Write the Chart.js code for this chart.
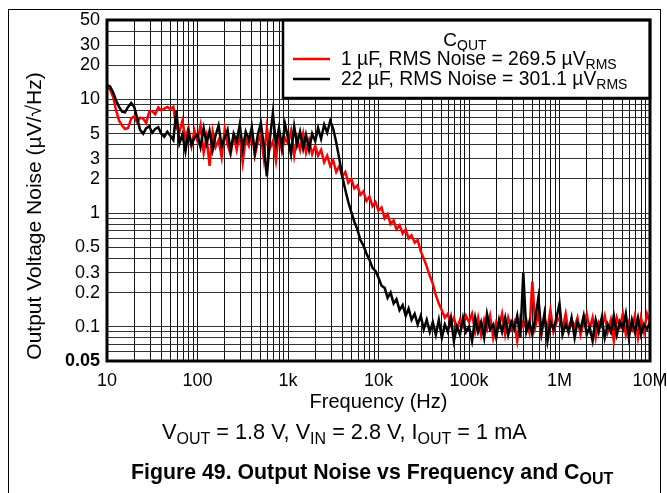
<!DOCTYPE html>
<html>
<head>
<meta charset="utf-8">
<script src="https://cdn.jsdelivr.net/npm/chart.js@4.4.1/dist/chart.umd.min.js"></script>
<style>
    html, body { margin: 0; padding: 0; background: #fff; }
    canvas { display: block; }
</style>
</head>
<body>
<canvas id="noiseChart" width="667" height="493"></canvas>
<script>
// Frequency points (Hz), shared by both traces
const FREQ = [
    10, 10.8, 11.7, 12.6, 13.6, 14.7, 15.8, 17.1, 18.5, 20, 21.5, 23.2, 25.1, 27.1, 29.3,
    31.6, 34.1, 36.9, 39.8, 43, 46.4, 50.1, 54.1, 58.4, 63.1, 68.1, 73.6, 79.4, 85.8, 92.6,
    100, 108, 117, 126, 136, 147, 158, 171, 185, 200, 215, 232, 251, 271, 293,
    316, 341, 369, 398, 430, 464, 501, 541, 584, 631, 681, 736, 794, 858, 926,
    1000, 1080, 1170, 1260, 1360, 1470, 1580, 1710, 1850, 2000, 2150, 2320, 2510, 2710, 2930,
    3160, 3410, 3690, 3980, 4300, 4640, 5010, 5410, 5840, 6310, 6810, 7360, 7940, 8580, 9260,
    1.0e4, 1.08e4, 1.17e4, 1.26e4, 1.36e4, 1.47e4, 1.58e4, 1.71e4, 1.85e4, 2.0e4, 2.15e4, 2.32e4, 2.51e4, 2.71e4, 2.93e4,
    3.16e4, 3.41e4, 3.69e4, 3.98e4, 4.3e4, 4.64e4, 5.01e4, 5.41e4, 5.84e4, 6.31e4, 6.81e4, 7.36e4, 7.94e4, 8.58e4, 9.26e4,
    1.0e5, 1.08e5, 1.17e5, 1.26e5, 1.36e5, 1.47e5, 1.58e5, 1.71e5, 1.85e5, 2.0e5, 2.15e5, 2.32e5, 2.51e5, 2.71e5, 2.93e5,
    3.16e5, 3.41e5, 3.69e5, 3.98e5, 4.3e5, 4.64e5, 5.01e5, 5.41e5, 5.84e5, 6.31e5, 6.81e5, 7.36e5, 7.94e5, 8.58e5, 9.26e5,
    1.0e6, 1.08e6, 1.17e6, 1.26e6, 1.36e6, 1.47e6, 1.58e6, 1.71e6, 1.85e6, 2.0e6, 2.15e6, 2.32e6, 2.51e6, 2.71e6, 2.93e6,
    3.16e6, 3.41e6, 3.69e6, 3.98e6, 4.3e6, 4.64e6, 5.01e6, 5.41e6, 5.84e6, 6.31e6, 6.81e6, 7.36e6, 7.94e6, 8.58e6, 9.26e6,
    1.0e7
];

// Output noise, uV/sqrt(Hz) - C_OUT = 1 uF (red)
const NOISE_1UF = [
    12.6, 12.3, 10.5, 8.0, 6.5, 5.9, 5.5, 5.6, 6.8, 7.1, 6.3, 6.9, 6.8, 6.2, 7.8,
    7.9, 7.4, 8.5, 8.0, 8.3, 8.6, 8.2, 8.6, 5.6, 5.2, 6.5, 4.5, 5.6, 3.9, 5.3,
    4.3, 5.9, 3.4, 4.7, 2.6, 5.2, 3.8, 4.4, 3.1, 5.5, 4.0, 3.3, 4.8, 3.6, 5.0,
    2.8, 4.5, 3.9, 5.3, 3.2, 4.2, 4.9, 3.0, 5.6, 3.7, 4.3, 2.9, 5.1, 3.5, 4.6,
    4.1, 5.3, 3.2, 4.6, 3.6, 5.0, 3.4, 4.4, 3.3, 3.9, 3.2, 3.6, 2.8, 3.2, 2.6,
    2.9, 2.3, 2.6, 2.1, 2.3, 1.85, 2.0, 1.65, 1.75, 1.45, 1.55, 1.28, 1.40, 1.15, 1.25,
    1.05, 1.12, 0.90, 0.98, 0.80, 0.86, 0.72, 0.78, 0.66, 0.72, 0.60, 0.64, 0.55, 0.58, 0.46,
    0.40, 0.34, 0.28, 0.24, 0.19, 0.16, 0.14, 0.12, 0.13, 0.105, 0.12, 0.095, 0.115, 0.10, 0.125,
    0.11, 0.13, 0.09, 0.12, 0.085, 0.115, 0.095, 0.125, 0.08, 0.11, 0.10, 0.13, 0.085, 0.12, 0.095,
    0.11, 0.075, 0.12, 0.10, 0.115, 0.09, 0.25, 0.10, 0.13, 0.085, 0.12, 0.095, 0.14, 0.09, 0.11,
    0.12, 0.095, 0.13, 0.09, 0.115, 0.10, 0.12, 0.085, 0.11, 0.13, 0.095, 0.12, 0.08, 0.11, 0.10,
    0.125, 0.09, 0.115, 0.075, 0.12, 0.10, 0.13, 0.085, 0.11, 0.095, 0.125, 0.08, 0.12, 0.09, 0.13,
    0.11
];

// Output noise, uV/sqrt(Hz) - C_OUT = 22 uF (black)
const NOISE_22UF = [
    13.4, 13.0, 11.5, 9.8, 8.6, 7.8, 7.7, 8.6, 9.3, 8.6, 6.9, 5.4, 5.0, 5.6, 5.8,
    5.1, 5.5, 5.7, 5.0, 4.7, 5.2, 4.8, 4.4, 8.0, 4.1, 4.9, 3.5, 5.2, 4.0, 4.6,
    4.9, 3.8, 5.6, 4.1, 5.3, 3.6, 4.8, 5.9, 3.9, 4.6, 5.4, 3.5, 5.0, 4.3, 6.0,
    3.7, 5.2, 4.4, 5.7, 3.4, 4.9, 6.2, 3.9, 2.1, 4.5, 7.6, 4.0, 5.6, 3.8, 6.1,
    4.6, 3.3, 5.8, 4.0, 5.2, 3.7, 4.9, 3.6, 5.0, 4.3, 5.6, 4.5, 6.0, 5.1, 6.5,
    5.5, 4.2, 3.0, 2.1, 1.6, 1.25, 1.02, 0.84, 0.72, 0.58, 0.52, 0.44, 0.39, 0.33, 0.31,
    0.27, 0.23, 0.22, 0.18, 0.20, 0.16, 0.175, 0.14, 0.155, 0.125, 0.145, 0.115, 0.13, 0.105, 0.125,
    0.095, 0.115, 0.09, 0.11, 0.085, 0.115, 0.08, 0.105, 0.09, 0.12, 0.075, 0.10, 0.085, 0.12, 0.09,
    0.10, 0.075, 0.12, 0.09, 0.11, 0.08, 0.13, 0.095, 0.105, 0.08, 0.115, 0.09, 0.12, 0.085, 0.11,
    0.095, 0.125, 0.08, 0.30, 0.09, 0.11, 0.085, 0.12, 0.18, 0.09, 0.13, 0.075, 0.11, 0.095, 0.12,
    0.16, 0.085, 0.105, 0.09, 0.12, 0.08, 0.11, 0.095, 0.125, 0.085, 0.10, 0.075, 0.115, 0.09, 0.12,
    0.08, 0.105, 0.09, 0.125, 0.085, 0.11, 0.095, 0.13, 0.08, 0.115, 0.09, 0.12, 0.085, 0.105, 0.095,
    0.11
];

const SERIES_LABELS = ['1 \u00b5F, RMS Noise = 269.5 \u00b5V', '22 \u00b5F, RMS Noise = 301.1 \u00b5V'];
const SERIES_COLORS = ['#ff0000', '#000000'];

const X_TICKS = [10, 100, 1000, 10000, 100000, 1000000, 10000000];
const X_TICK_LABELS = ['10', '100', '1k', '10k', '100k', '1M', '10M'];
const Y_TICKS = [0.05, 0.1, 0.2, 0.3, 0.5, 1, 2, 3, 5, 10, 20, 30, 50];
const Y_TICK_LABELS = ['0.05', '0.1', '0.2', '0.3', '0.5', '1', '2', '3', '5', '10', '20', '30', '50'];

const FONT = '"Liberation Sans", Arial, Helvetica, sans-serif';

function labelFor(value, values, labels) {
    const i = values.findIndex(v => Math.abs(v - value) / v < 1e-6);
    return i >= 0 ? labels[i] : '';
}

// gridlines at 1..9 x every decade (Chart.js would also add 1.5 steps)
function logGrid(min, max) {
    const out = [];
    for (let e = Math.floor(Math.log10(min)); e <= Math.ceil(Math.log10(max)); e++) {
        for (let m = 1; m <= 9; m++) {
            const v = parseFloat((m * Math.pow(10, e)).toPrecision(6));
            if (v >= min * 0.9999 && v <= max * 1.0001) out.push({ value: v });
        }
    }
    return out;
}

// text with subscript runs
function drawRuns(ctx, runs, x, y, size, weight, align) {
    const fontFor = sub => `${weight} ${sub ? Math.round(size * 0.74) : size}px ${FONT}`;
    let total = 0;
    runs.forEach(r => { ctx.font = fontFor(r.sub); total += ctx.measureText(r.t).width; });
    let cx = align === 'center' ? x - total / 2 : x;
    ctx.textAlign = 'left';
    ctx.textBaseline = 'alphabetic';
    runs.forEach(r => {
        ctx.font = fontFor(r.sub);
        ctx.fillText(r.t, cx, r.sub ? y + size * 0.22 : y);
        cx += ctx.measureText(r.t).width;
    });
}

const decorations = {
    id: 'decorations',
    afterDatasetsDraw(chart) {
        const { ctx, chartArea: a } = chart;
        ctx.save();

        // legend box in the upper right corner
        const lx = 283, ly = a.top, lw = a.right - 283, lh = 78;
        ctx.fillStyle = '#fff';
        ctx.fillRect(lx, ly, lw, lh);
        ctx.strokeStyle = '#000';
        ctx.lineWidth = 2.5;
        ctx.strokeRect(lx, ly, lw, lh);
        ctx.fillStyle = '#000';
        drawRuns(ctx, [{ t: 'C' }, { t: 'OUT', sub: true }], 465, 46, 19, 'normal', 'center');
        [0, 1].forEach(k => {
            const yy = 59 + k * 20;
            ctx.strokeStyle = SERIES_COLORS[k];
            ctx.lineWidth = 2.5;
            ctx.beginPath();
            ctx.moveTo(293, yy);
            ctx.lineTo(330, yy);
            ctx.stroke();
            ctx.fillStyle = '#000';
            drawRuns(ctx, [{ t: chart.data.datasets[k].label }, { t: 'RMS', sub: true }], 341, yy + 6, 19.3, 'normal', 'left');
        });

        // plot frame
        ctx.strokeStyle = '#000';
        ctx.lineWidth = 3;
        ctx.strokeRect(a.left, a.top, a.right - a.left, a.bottom - a.top);

        // outer figure border
        ctx.lineWidth = 1;
        ctx.strokeRect(8.5, 9.5, 652, 500);

        // axis titles
        ctx.fillStyle = '#000';
        ctx.font = `20px ${FONT}`;
        ctx.textAlign = 'center';
        ctx.textBaseline = 'alphabetic';
        ctx.fillText('Frequency (Hz)', (a.left + a.right) / 2, 408);

        ctx.save();
        ctx.translate(35, 216);
        ctx.rotate(-Math.PI / 2);
        ctx.font = `21px ${FONT}`;
        ctx.textBaseline = 'middle';
        ctx.fillText('Output Voltage Noise (\u00b5V/\u221aHz)', 0, 0);
        ctx.restore();

        // test conditions and caption
        drawRuns(ctx, [
            { t: 'V' }, { t: 'OUT', sub: true }, { t: ' = 1.8 V, V' }, { t: 'IN', sub: true },
            { t: ' = 2.8 V, I' }, { t: 'OUT', sub: true }, { t: ' = 1 mA' }
        ], 162, 439, 21.7, 'normal', 'left');
        drawRuns(ctx, [
            { t: 'Figure 49. Output Noise vs Frequency and C' }, { t: 'OUT', sub: true }
        ], 131, 479, 21.3, 'bold', 'left');
        ctx.restore();
    }
};

document.addEventListener('DOMContentLoaded', () => {
    const ctx = document.getElementById('noiseChart').getContext('2d');

    new Chart(ctx, {
        type: 'line',
        data: {
            datasets: [NOISE_1UF, NOISE_22UF].map((series, k) => ({
                label: SERIES_LABELS[k],
                data: FREQ.map((f, i) => ({ x: f, y: series[i] })),
                borderColor: SERIES_COLORS[k],
                borderWidth: 2.5,
                pointRadius: 0,
                tension: 0,
                fill: false,
                order: k === 0 ? 2 : 1
            }))
        },
        options: {
            responsive: false,
            animation: false,
            events: [],
            layout: { padding: { left: 0, right: 17, top: 20, bottom: 92 } },
            plugins: {
                legend: { display: false },
                tooltip: { enabled: false }
            },
            scales: {
                x: {
                    type: 'logarithmic',
                    min: 10,
                    max: 10000000,
                    afterBuildTicks: s => { s.ticks = logGrid(10, 10000000); },
                    afterFit: s => { s.height = 40; s.paddingLeft = 0; s.paddingRight = 0; },
                    grid: { color: '#111', lineWidth: 1, drawTicks: false },
                    border: { display: false },
                    ticks: {
                        autoSkip: false,
                        maxRotation: 0,
                        padding: 9,
                        color: '#000',
                        font: { family: FONT, size: 18 },
                        callback: v => labelFor(v, X_TICKS, X_TICK_LABELS)
                    }
                },
                y: {
                    type: 'logarithmic',
                    min: 0.05,
                    max: 50,
                    afterBuildTicks: s => { s.ticks = logGrid(0.05, 50); },
                    afterFit: s => { s.width = 107; s.paddingTop = 0; s.paddingBottom = 0; },
                    grid: { color: '#333', lineWidth: 1, drawTicks: false },
                    border: { display: false },
                    ticks: {
                        autoSkip: false,
                        padding: 7,
                        color: '#000',
                        font: c => ({ family: FONT, size: 18, weight: c.tick && Math.abs(c.tick.value - 0.05) < 1e-9 ? 'bold' : 'normal' }),
                        callback: v => labelFor(v, Y_TICKS, Y_TICK_LABELS)
                    }
                }
            }
        },
        plugins: [decorations]
    });
});
</script>
</body>
</html>
